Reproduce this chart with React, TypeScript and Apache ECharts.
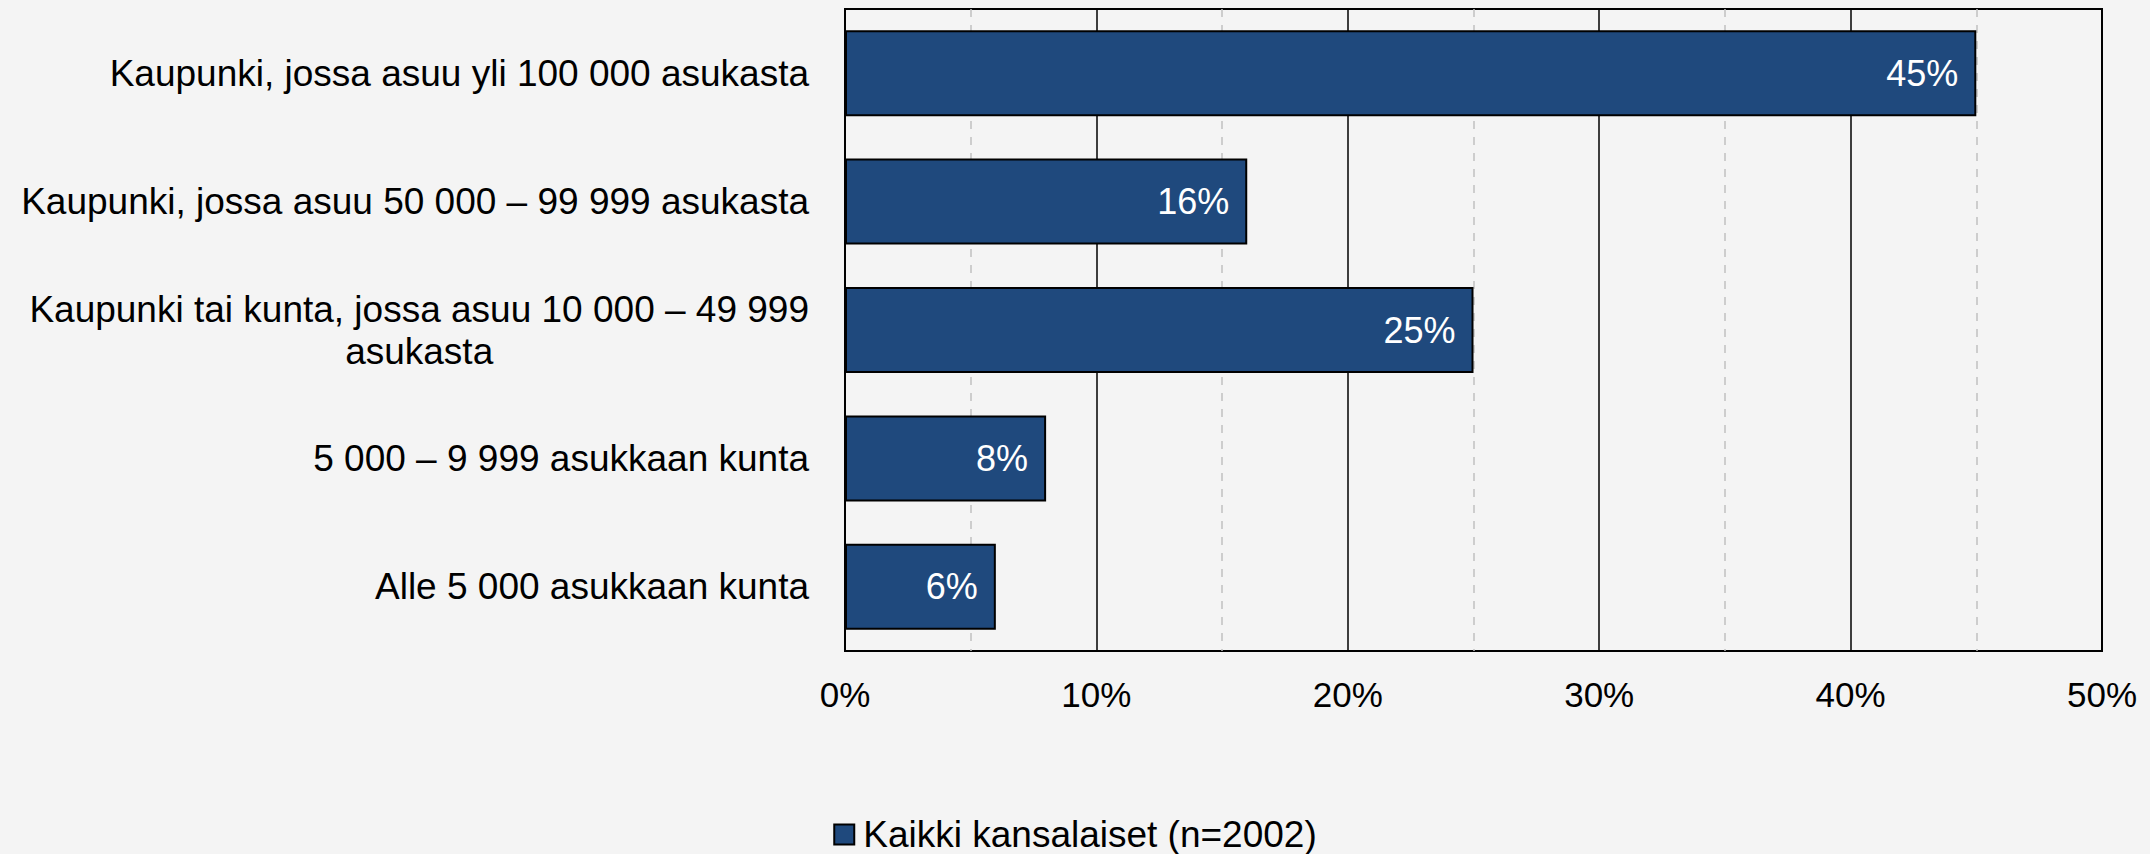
import React, { useEffect, useRef } from "react";
import * as echarts from "echarts";

const categories = [
  "Kaupunki, jossa asuu yli 100 000 asukasta",
  "Kaupunki, jossa asuu 50 000 – 99 999 asukasta",
  "Kaupunki tai kunta, jossa asuu 10 000 – 49 999\nasukasta",
  "5 000 – 9 999 asukkaan kunta",
  "Alle 5 000 asukkaan kunta",
];
const seriesName = "Kaikki kansalaiset (n=2002)";
const values = [45, 16, 25, 8, 6];
const xTicks = [0, 10, 20, 30, 40, 50];

const FONT = "Liberation Sans, Arial, sans-serif";

export default function App() {
  const ref = useRef<HTMLDivElement>(null);
  useEffect(() => {
    if (!ref.current) return;
    const chart = echarts.init(ref.current, undefined, { renderer: "svg" });
    chart.setOption({
      animation: false,
      backgroundColor: "#f4f4f4",
      textStyle: { fontFamily: FONT },
      grid: {
        left: 845,
        right: 48,
        top: 9,
        bottom: 203,
        show: true,
        borderColor: "#000",
        borderWidth: 2,
        backgroundColor: "transparent",
        containLabel: false,
      },
      legend: {
        left: "center",
        top: 816,
        padding: 0,
        icon: "rect",
        itemWidth: 20,
        itemHeight: 20,
        itemGap: 20,
        textStyle: {
          fontSize: 37,
          lineHeight: 37,
          color: "#000",
          fontFamily: FONT,
          padding: [0, 0, 0, 4],
        },
        data: [seriesName],
      },
      xAxis: {
        type: "value",
        min: xTicks[0],
        max: xTicks[xTicks.length - 1],
        interval: 10,
        axisLine: { show: false },
        axisTick: { show: false },
        axisLabel: {
          formatter: (v: number) => `${v}%`,
          fontSize: 35,
          color: "#000",
          margin: 26,
          fontFamily: FONT,
        },
        splitLine: { show: true, lineStyle: { color: "#000", width: 1.5 } },
        minorTick: { show: false, splitNumber: 2 },
        minorSplitLine: {
          show: true,
          lineStyle: { color: "#c0c0c0", width: 1.5, type: [8, 8] },
        },
      },
      yAxis: {
        type: "category",
        inverse: true,
        data: categories,
        axisLine: { show: false },
        axisTick: { show: false },
        axisLabel: {
          margin: 36,
          color: "#000",
          fontSize: 37,
          fontFamily: FONT,
          formatter: (v: string) =>
            v
              .split("\n")
              .map((s) => `{c|${s}}`)
              .join("\n"),
          rich: {
            c: { align: "center", fontSize: 37, lineHeight: 42, color: "#000", fontFamily: FONT },
          },
        },
      },
      series: [
        {
          name: seriesName,
          type: "bar",
          data: values,
          barCategoryGap: "33%",
          itemStyle: { color: "#1f497d", borderColor: "#000", borderWidth: 2 },
          label: {
            show: true,
            position: "insideRight",
            distance: 18,
            formatter: (p: any) => `${p.value}%`,
            color: "#fff",
            fontSize: 36,
            fontFamily: FONT,
          },
        },
      ],
    });
    return () => chart.dispose();
  }, []);
  return (
    <div
      ref={ref}
      style={{ position: "fixed", left: 0, top: 0, width: 2150, height: 854 }}
    />
  );
}
